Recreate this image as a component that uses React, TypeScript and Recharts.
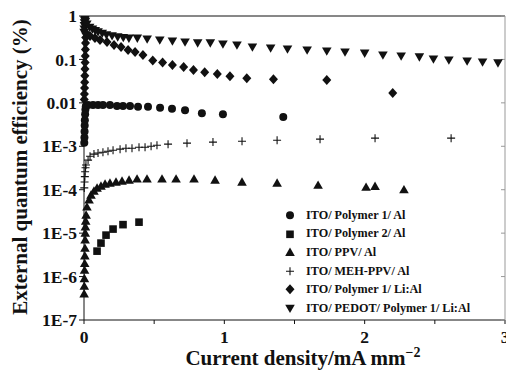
import React from "react";
import { ScatterChart, Scatter, XAxis, YAxis, Label } from "recharts";

const FONT = '"Liberation Serif", "Times New Roman", serif';
const INK = "#111";

const xTicks = [0, 0.5, 1, 1.5, 2, 2.5, 3];
const yTicks = [1e-7, 1e-6, 1e-5, 1e-4, 1e-3, 0.01, 0.1, 1];
const yTickLabels = ["1E-7", "1E-6", "1E-5", "1E-4", "1E-3", "0.01", "0.1", "1"];

const seriesNames = [
  "ITO/ Polymer 1/ Al",
  "ITO/ Polymer 2/ Al",
  "ITO/ PPV/ Al",
  "ITO/ MEH-PPV/ Al",
  "ITO/ Polymer 1/ Li:Al",
  "ITO/ PEDOT/ Polymer 1/ Li:Al",
];
const seriesMarkers = ["circle", "square", "triangle", "plus", "diamond", "triangleDown"];

// ITO/ Polymer 1/ Al
const poly1AlX = [0.002, 0.003, 0.004, 0.005, 0.006, 0.008, 0.01, 0.013, 0.029, 0.064, 0.1, 0.135, 0.185, 0.235, 0.278, 0.328, 0.385, 0.456, 0.542, 0.627, 0.72, 0.84, 0.99, 1.42];
const poly1AlY = [0.0012, 0.0016, 0.0022, 0.003, 0.004, 0.0055, 0.007, 0.0083, 0.0089, 0.0089, 0.0089, 0.0089, 0.0089, 0.0085, 0.0085, 0.0085, 0.0081, 0.0081, 0.0077, 0.0073, 0.0068, 0.0058, 0.0055, 0.0047];

// ITO/ Polymer 2/ Al
const poly2AlX = [0.093, 0.121, 0.157, 0.207, 0.278, 0.392];
const poly2AlY = [3.85e-6, 5.9e-6, 9.0e-6, 1.24e-5, 1.57e-5, 1.79e-5];

// ITO/ PPV/ Al
const ppvX = [0.001, 0.002, 0.003, 0.004, 0.005, 0.006, 0.007, 0.008, 0.009, 0.01, 0.012, 0.015, 0.021, 0.036, 0.05, 0.071, 0.093, 0.121, 0.15, 0.185, 0.228, 0.271, 0.321, 0.378, 0.449, 0.556, 0.656, 0.784, 0.934, 1.126, 1.376, 1.668, 2.01, 2.074, 2.28];
const ppvY = [4e-7, 6e-7, 9e-7, 1.4e-6, 2e-6, 3e-6, 4.5e-6, 7e-6, 1e-5, 1.4e-5, 1.9e-5, 2.6e-5, 4.0e-5, 5.8e-5, 7.5e-5, 9.3e-5, 1.09e-4, 1.21e-4, 1.35e-4, 1.42e-4, 1.5e-4, 1.58e-4, 1.67e-4, 1.77e-4, 1.77e-4, 1.77e-4, 1.77e-4, 1.77e-4, 1.67e-4, 1.5e-4, 1.42e-4, 1.27e-4, 1.14e-4, 1.2e-4, 1.0e-4];

// ITO/ MEH-PPV/ Al
const mehX = [0.002, 0.004, 0.006, 0.008, 0.011, 0.014, 0.029, 0.043, 0.071, 0.1, 0.135, 0.171, 0.207, 0.257, 0.299, 0.342, 0.392, 0.435, 0.478, 0.52, 0.599, 0.734, 0.919, 1.126, 1.376, 1.682, 2.074, 2.616];
const mehY = [1.1e-4, 1.5e-4, 2e-4, 2.6e-4, 3.2e-4, 3.7e-4, 4.8e-4, 5.9e-4, 6.6e-4, 7.0e-4, 7.3e-4, 7.7e-4, 8.1e-4, 8.6e-4, 9.0e-4, 9.0e-4, 9.5e-4, 9.5e-4, 1.0e-3, 1.06e-3, 1.12e-3, 1.18e-3, 1.25e-3, 1.31e-3, 1.38e-3, 1.46e-3, 1.54e-3, 1.54e-3];

// ITO/ Polymer 1/ Li:Al
const poly1LiX = [0.002, 0.003, 0.004, 0.005, 0.006, 0.007, 0.008, 0.009, 0.01, 0.011, 0.012, 0.014, 0.043, 0.078, 0.114, 0.164, 0.214, 0.264, 0.314, 0.364, 0.42, 0.49, 0.56, 0.63, 0.71, 0.78, 0.86, 0.95, 1.04, 1.16, 1.35, 1.73, 2.2];
const poly1LiY = [0.012, 0.016, 0.022, 0.03, 0.042, 0.06, 0.085, 0.12, 0.17, 0.24, 0.32, 0.406, 0.346, 0.311, 0.28, 0.252, 0.215, 0.193, 0.165, 0.148, 0.126, 0.095, 0.085, 0.074, 0.067, 0.057, 0.051, 0.046, 0.041, 0.037, 0.035, 0.0335, 0.0168];

// ITO/ PEDOT/ Polymer 1/ Li:Al
const pedotX = [0.001, 0.002, 0.003, 0.004, 0.005, 0.007, 0.01, 0.02, 0.04, 0.06, 0.08, 0.1, 0.13, 0.16, 0.2, 0.24, 0.28, 0.32, 0.38, 0.45, 0.54, 0.63, 0.72, 0.81, 0.9, 0.99, 1.09, 1.2, 1.33, 1.45, 1.59, 1.73, 1.86, 2.0, 2.13, 2.26, 2.39, 2.49, 2.6, 2.73, 2.84, 2.95];
const pedotY = [0.42, 0.5, 0.6, 0.7, 0.8, 0.85, 0.75, 0.65, 0.55, 0.5, 0.46, 0.43, 0.4, 0.37, 0.35, 0.33, 0.32, 0.31, 0.31, 0.295, 0.28, 0.266, 0.252, 0.24, 0.24, 0.226, 0.215, 0.193, 0.183, 0.174, 0.165, 0.156, 0.148, 0.14, 0.126, 0.12, 0.114, 0.102, 0.097, 0.092, 0.087, 0.083];

const zip = (xs: number[], ys: number[]) => xs.map((x, i) => ({ x, y: ys[i] }));

const seriesData = [
  zip(poly1AlX, poly1AlY),
  zip(poly2AlX, poly2AlY),
  zip(ppvX, ppvY),
  zip(mehX, mehY),
  zip(poly1LiX, poly1LiY),
  zip(pedotX, pedotY),
];

function Marker({ kind, cx, cy }: { kind: string; cx: number; cy: number }) {
  switch (kind) {
    case "circle":
      return <circle cx={cx} cy={cy} r={4} fill={INK} />;
    case "square":
      return <rect x={cx - 3.8} y={cy - 3.8} width={7.6} height={7.6} fill={INK} />;
    case "triangle":
      return <polygon points={`${cx},${cy - 4.8} ${cx + 4.8},${cy + 3.6} ${cx - 4.8},${cy + 3.6}`} fill={INK} />;
    case "triangleDown":
      return <polygon points={`${cx},${cy + 4.8} ${cx + 4.8},${cy - 3.6} ${cx - 4.8},${cy - 3.6}`} fill={INK} />;
    case "diamond":
      return <polygon points={`${cx},${cy - 5} ${cx + 4.5},${cy} ${cx},${cy + 5} ${cx - 4.5},${cy}`} fill={INK} />;
    default:
      return <path d={`M${cx - 4},${cy}H${cx + 4}M${cx},${cy - 4}V${cy + 4}`} stroke={INK} strokeWidth={1.1} />;
  }
}

const yLabel = (v: number) => {
  const i = yTicks.findIndex((t) => Math.abs(Math.log10(t) - Math.log10(v)) < 0.01);
  return i >= 0 ? yTickLabels[i] : "";
};

const tickFont = { fill: INK, fontFamily: FONT, fontWeight: "bold" as const, fontSize: 17.5 };

export default function App() {
  return (
    <div style={{ position: "absolute", left: 0, top: 0, width: 506, height: 374, background: "#fff" }}>
      <ScatterChart width={506} height={374} margin={{ top: 16, right: 1, bottom: 0, left: 0 }}>
        <XAxis
          dataKey="x"
          type="number"
          domain={[0, 3]}
          ticks={xTicks}
          interval={0}
          height={54}
          tickSize={4}
          tickMargin={7}
          stroke={INK}
          tick={tickFont}
          tickFormatter={(v: number) => (Number.isInteger(v) ? String(v) : "")}
        >
          <Label
            content={() => (
              <text x={303} y={365} textAnchor="middle" fontFamily={FONT} fontWeight="bold" fontSize={21} fill={INK}>
                Current density/mA mm<tspan dy={-8} fontSize={14}>−2</tspan>
              </text>
            )}
          />
        </XAxis>
        <XAxis
          xAxisId="top"
          orientation="top"
          type="number"
          domain={[0, 3]}
          ticks={xTicks}
          interval={0}
          mirror
          tickSize={4}
          stroke={INK}
          tickFormatter={() => ""}
        />
        <YAxis
          dataKey="y"
          type="number"
          scale="log"
          domain={[1e-7, 1]}
          allowDataOverflow
          ticks={yTicks}
          interval={0}
          width={84}
          tickSize={5}
          tickMargin={2}
          stroke={INK}
          tick={tickFont}
          tickFormatter={yLabel}
        >
          <Label
            content={() => (
              <text
                x={20}
                y={167}
                transform="rotate(-90 20 167)"
                textAnchor="middle"
                dominantBaseline="central"
                fontFamily={FONT}
                fontWeight="bold"
                fontSize={21}
                fill={INK}
              >
                External quantum efficiency (%)
              </text>
            )}
          />
        </YAxis>
        <YAxis
          yAxisId="right"
          orientation="right"
          type="number"
          scale="log"
          domain={[1e-7, 1]}
          allowDataOverflow
          ticks={yTicks}
          interval={0}
          mirror
          tickSize={4}
          stroke="#999"
          tickFormatter={() => ""}
        />
        {seriesData.map((data, i) => (
          <Scatter
            key={seriesNames[i]}
            name={seriesNames[i]}
            data={data}
            isAnimationActive={false}
            shape={(p: any) => <Marker kind={seriesMarkers[i]} cx={p.cx} cy={p.cy} />}
          />
        ))}
      </ScatterChart>
      <div style={{ position: "absolute", left: 282, top: 206, fontFamily: FONT, fontWeight: "bold", fontSize: 12.2, color: INK }}>
        {seriesNames.map((name, i) => (
          <div key={name} style={{ display: "flex", alignItems: "center", height: 18.6 }}>
            <svg width={16} height={18.6} style={{ display: "block" }}>
              <Marker kind={seriesMarkers[i]} cx={8} cy={9.3} />
            </svg>
            <span style={{ marginLeft: 8, whiteSpace: "nowrap" }}>{name}</span>
          </div>
        ))}
      </div>
    </div>
  );
}
